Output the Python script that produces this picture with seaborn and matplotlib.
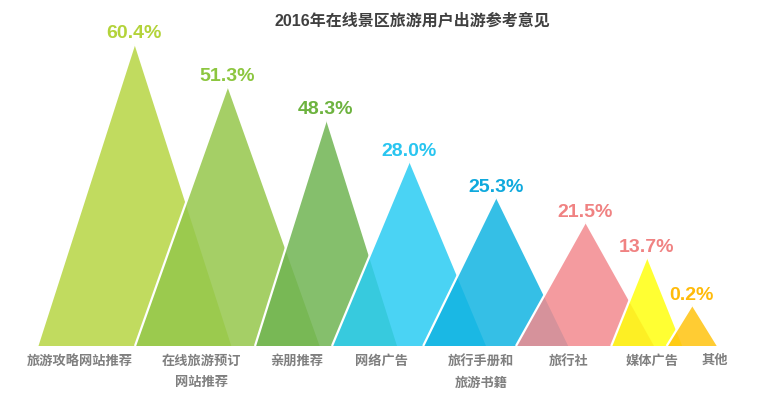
import numpy as np
import matplotlib
matplotlib.use("Agg")
import matplotlib.pyplot as plt
from matplotlib.patches import Polygon
import seaborn as sns

# ---------------- data ----------------
title = "2016年在线景区旅游用户出游参考意见"
categories = ["旅游攻略网站推荐", "在线旅游预订\n网站推荐", "亲朋推荐", "网络广告",
              "旅行手册和\n旅游书籍", "旅行社", "媒体广告", "其他"]
value_labels = [60.4, 51.3, 48.3, 28.0, 25.3, 21.5, 13.7, 0.2]
# drawn triangle heights (same units as the 60.4% peak)
display_heights = [60.4, 51.9, 45.2, 36.9, 29.7, 24.7, 17.7, 8.1]

# ---------------- style / layout ----------------
fill_colors = ["#b7d543", "#95c74b", "#70b452", "#2accf3",
               "#12b4e2", "#f38a8e", "#ffff0f", "#ffc30f"]
text_colors = ["#b3d33a", "#8cc63f", "#6db33f", "#29c5f0",
               "#0fa9dd", "#f08282", "#f08282", "#ffbb0a"]
centers = [134.3, 227.3, 326, 409, 495.7, 585, 646.7, 691.7]
half_widths = [97, 92.3, 71, 77, 72.5, 69, 35.5, 25]
label_x = [80, 201, 297, 382, 481, 569, 652, 715]
alpha = 0.85

sns.set_theme(style="white")
plt.rcParams["font.family"] = ["Liberation Sans", "Noto Sans CJK SC", "DejaVu Sans"]

W, H = 760, 395
base_px = 49
px_per_unit = 5.0
fig = plt.figure(figsize=(W / 100, H / 100), dpi=100)
ax = fig.add_axes([0, base_px / H, 1, (H - base_px) / H])
ax.set_xlim(0, W)
ax.set_ylim(0, (H - base_px) / px_per_unit)

for i, (cx, hw, h) in enumerate(zip(centers, half_widths, display_heights)):
    tri = Polygon([(cx - hw, 0), (cx, h), (cx + hw, 0)], closed=True,
                  facecolor=fill_colors[i], alpha=alpha, edgecolor="none",
                  zorder=2 + i)
    ax.add_patch(tri)
    ax.plot([cx - hw, cx], [0, h], color="white", lw=1.6,
            solid_capstyle="butt", zorder=2 + i + 0.5)
    ax.annotate(f"{value_labels[i]:.1f}%", xy=(cx, h), xytext=(0, 4),
                textcoords="offset points", ha="center", va="baseline",
                fontsize=14, fontweight="bold", color=text_colors[i],
                zorder=20)

ax.set_xticks(label_x)
ax.set_xticklabels(categories, fontsize=9.5, fontweight="bold",
                   color="#7f7f7f", linespacing=2.05)
ax.tick_params(axis="x", length=0, pad=6.5)
ax.set_yticks([])
sns.despine(ax=ax, left=True, bottom=True)

fig.text(412 / W, 1 - 20.5 / H, title, ha="center", va="center",
         fontsize=11.5, fontweight="bold", color="#404040")

fig.savefig("out.png", dpi=100)
